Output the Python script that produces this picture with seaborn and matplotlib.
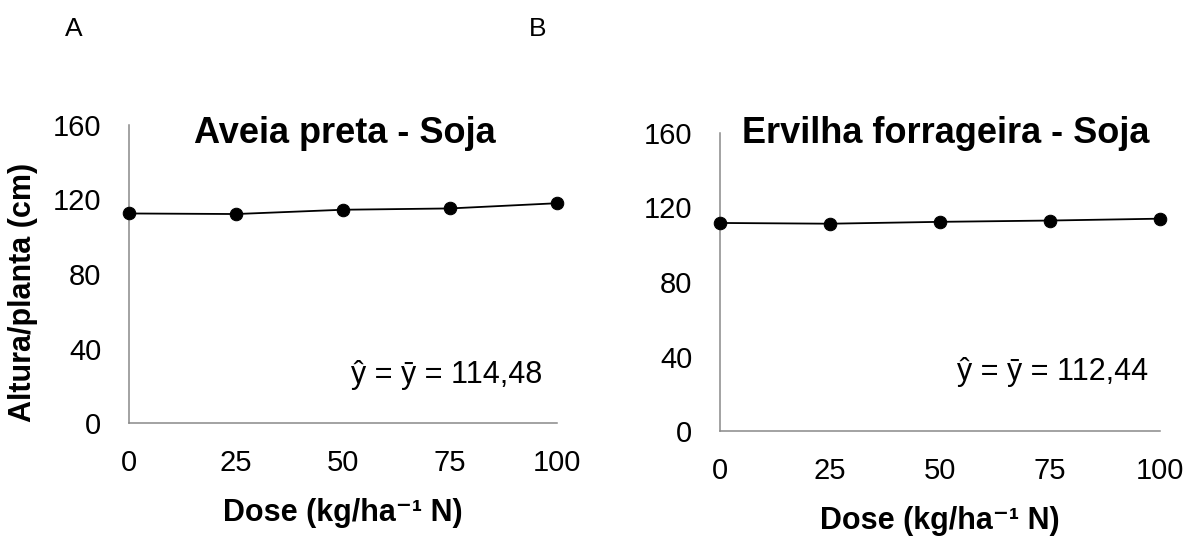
import matplotlib
matplotlib.use("Agg")
import matplotlib.pyplot as plt
import seaborn as sns
import pandas as pd

dose = [0, 25, 50, 75, 100]
aveia = [112.5, 112.2, 114.5, 115.2, 118.0]
ervilha = [111.7, 111.3, 112.3, 113.0, 114.0]
titles = ["Aveia preta - Soja", "Ervilha forrageira - Soja"]
equations = ["ŷ = ȳ = 114,48", "ŷ = ȳ = 112,44"]
panel_letters = ["A", "B"]
yticks = [0, 40, 80, 120, 160]
xticks = [0, 25, 50, 75, 100]

sns.set_style("white")
plt.rcParams['font.family'] = ['Liberation Sans', 'DejaVu Sans']
plt.rcParams['text.color'] = 'black'
plt.rcParams['axes.labelcolor'] = 'black'

W, H = 1197, 537
fig = plt.figure(figsize=(W / 100, H / 100), dpi=100)

def box(x0, x1, ytop, ybot):
    return [x0 / W, 1 - ybot / H, (x1 - x0) / W, (ybot - ytop) / H]

ax1 = fig.add_axes(box(129, 557, 125, 423))
ax2 = fig.add_axes(box(720, 1160, 133, 431))

grey = "#898989"
series = [aveia, ervilha]
for i, ax in enumerate([ax1, ax2]):
    df = pd.DataFrame({"dose": dose, "alt": series[i]})
    sns.lineplot(data=df, x="dose", y="alt", ax=ax, color="black", lw=1.3,
                 marker="o", markersize=9, markeredgecolor="black",
                 clip_on=False, zorder=5)
    ax.set_xlim(0, 100)
    ax.set_ylim(0, 160)
    ax.set_xticks(xticks)
    ax.set_yticks(yticks)
    ax.tick_params(axis="both", direction="out", length=7, width=1.1,
                   color=grey, labelsize=21, labelcolor="black")
    ax.tick_params(axis="y", pad=13)
    ax.tick_params(axis="x", pad=12)
    for s in ["top", "right"]:
        ax.spines[s].set_visible(False)
    for s in ["left", "bottom"]:
        ax.spines[s].set_color(grey)
        ax.spines[s].set_linewidth(1.1)
    ax.set_xlabel("Dose (kg/ha\u207b\u00b9 N)", fontsize=22, fontweight="bold",
                  labelpad=15, color="black")
    ax.set_ylabel("")

ax1.set_ylabel("Altura/planta (cm)", fontsize=22, fontweight="bold", color="black")
ax1.yaxis.set_label_coords(-(129 - 38) / 428, (423 - 292) / 298)

# titles
fig.text(345 / W, 1 - 143 / H, titles[0], ha="center", va="baseline",
         fontsize=26, fontweight="bold")
fig.text(946 / W, 1 - 143 / H, titles[1], ha="center", va="baseline",
         fontsize=26, fontweight="bold")

# equations
fig.text(542 / W, 1 - 383 / H, equations[0], ha="right", va="baseline", fontsize=22)
fig.text(1148 / W, 1 - 380 / H, equations[1], ha="right", va="baseline", fontsize=22)

# panel letters
fig.text(65 / W, 1 - 36 / H, panel_letters[0], ha="left", va="baseline", fontsize=19)
fig.text(529 / W, 1 - 36 / H, panel_letters[1], ha="left", va="baseline", fontsize=19)

fig.savefig("out.png", dpi=100)
